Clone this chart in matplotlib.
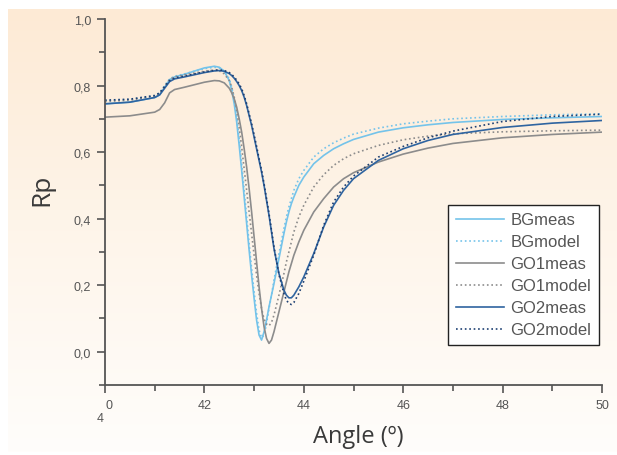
import numpy as np
import matplotlib
matplotlib.use("Agg")
import matplotlib.pyplot as plt
from matplotlib.colors import LinearSegmentedColormap
from matplotlib.ticker import MultipleLocator, FixedLocator, FixedFormatter

angle = [40.0, 40.5, 41.0, 41.1, 41.2, 41.3, 41.4, 41.6, 42.0, 42.2, 42.3, 42.4, 42.5,
         42.55, 42.6, 42.65, 42.7, 42.75, 42.8, 42.85, 42.9, 42.95, 43.0, 43.05, 43.1,
         43.15, 43.2, 43.25, 43.3, 43.35, 43.4, 43.5, 43.6, 43.65, 43.7, 43.75, 43.8,
         43.9, 44.0, 44.2, 44.4, 44.6, 44.8, 45.0, 45.5, 46.0, 46.5, 47.0, 48.0, 49.0, 50.0]

bg_meas = [.745, .750, .764, .772, .795, .818, .826, .834, .853, .858, .855, .843, .815,
           .785, .745, .690, .620, .545, .465, .385, .305, .230, .160, .095, .050,
           .035, .060, .095, .135, .170, .205, .280, .355, .390, .420, .445, .465,
           .500, .525, .565, .590, .610, .625, .638, .660, .673, .682, .689, .698, .703, .707]

bg_model = [.755, .758, .770, .778, .800, .820, .828, .835, .851, .855, .853, .843, .820,
            .795, .760, .705, .640, .565, .485, .405, .325, .250, .180, .115, .065,
            .042, .050, .085, .130, .170, .215, .295, .370, .405, .435, .460, .485,
            .520, .545, .585, .610, .628, .642, .654, .672, .685, .693, .700, .707, .712, .715]

go1_meas = [.705, .709, .720, .728, .748, .778, .788, .795, .810, .815, .814, .808, .792,
            .778, .760, .735, .700, .660, .610, .555, .490, .420, .345, .270, .195,
            .130, .075, .040, .025, .035, .060, .120, .180, .210, .240, .265, .290,
            .330, .365, .420, .460, .495, .520, .538, .570, .594, .612, .626, .643, .653, .660]

go1_model = [.752, .756, .768, .776, .798, .818, .826, .832, .843, .846, .844, .835, .815,
             .795, .765, .725, .675, .615, .550, .485, .420, .355, .290, .230, .175,
             .130, .098, .082, .078, .088, .110, .170, .235, .270, .300, .330, .360,
             .405, .440, .495, .532, .560, .580, .595, .620, .637, .648, .655, .661, .664, .666]

go2_meas = [.745, .750, .764, .772, .792, .812, .820, .826, .839, .844, .845, .843, .836,
            .830, .822, .812, .800, .785, .765, .740, .710, .680, .645, .610, .575,
            .540, .500, .455, .410, .360, .310, .235, .185, .170, .162, .162, .170,
            .195, .225, .295, .375, .440, .485, .520, .575, .610, .635, .653, .674, .687, .695]

go2_model = [.756, .759, .770, .778, .797, .815, .823, .829, .841, .846, .847, .845, .839,
             .833, .826, .816, .805, .790, .770, .745, .715, .685, .652, .617, .580,
             .545, .505, .460, .415, .365, .315, .232, .175, .155, .145, .142, .148,
             .175, .212, .290, .380, .450, .495, .528, .585, .617, .643, .663, .692, .707, .714]

series = [
    ("BGmeas", bg_meas, "#74c3ea", "-"),
    ("BGmodel", bg_model, "#74c3ea", ":"),
    ("GO1meas", go1_meas, "#8c8c8c", "-"),
    ("GO1model", go1_model, "#8c8c8c", ":"),
    ("GO2meas", go2_meas, "#2f64a0", "-"),
    ("GO2model", go2_model, "#1d3f72", ":"),
]

x_ticks = [40, 42, 44, 46, 48, 50]
x_tick_labels = ["0", "42", "44", "46", "48", "50"]
y_ticks = [0.0, 0.2, 0.4, 0.6, 0.8, 1.0]
y_tick_labels = ["0,0", "0,2", "0,4", "0,6", "0,8", "1,0"]

W, H = 617, 456
fig = plt.figure(figsize=(W / 100, H / 100), dpi=100)
fig.patch.set_facecolor("white")

# gradient background panel
bgax = fig.add_axes([8 / W, 1 - 453 / H, 1 - 8 / W, (453 - 10) / H])
cmap = LinearSegmentedColormap.from_list("bgc", ["#fdead5", "#fef5ea", "#fffdfb"])
grad = np.linspace(0, 1, 256).reshape(-1, 1)
bgax.imshow(grad, aspect="auto", cmap=cmap, extent=[0, 1, 0, 1], origin="upper")
bgax.axis("off")

ax = fig.add_axes([105 / W, 1 - 386 / H, (602 - 105) / W, (386 - 20) / H])
ax.patch.set_alpha(0)

for name, vals, col, ls in series:
    ax.plot(angle, vals, color=col, linestyle=ls, lw=1.2, label=name)

ax.set_xlim(40, 50)
ax.set_ylim(-0.1, 1.0)
ax.xaxis.set_major_locator(FixedLocator(x_ticks))
ax.xaxis.set_major_formatter(FixedFormatter(x_tick_labels))
ax.xaxis.set_minor_locator(MultipleLocator(1))
ax.yaxis.set_major_locator(FixedLocator(y_ticks))
ax.yaxis.set_major_formatter(FixedFormatter(y_tick_labels))
ax.yaxis.set_minor_locator(MultipleLocator(0.1))

for s in ["top", "right"]:
    ax.spines[s].set_visible(False)
for s in ["left", "bottom"]:
    ax.spines[s].set_color("#555555")
    ax.spines[s].set_linewidth(1.3)

ax.tick_params(which="major", direction="out", length=6, width=1.2, color="#555555",
               labelsize=9, labelcolor="#555555", pad=4)
ax.tick_params(which="minor", direction="out", length=4, width=1.2, color="#555555")
for lab in ax.get_xticklabels() + ax.get_yticklabels():
    lab.set_fontfamily("Liberation Sans")
ax.get_xticklabels()[0].set_horizontalalignment("left")

fig.text(100 / W, 1 - 419 / H, "4", fontsize=9, color="#555555", family="Liberation Sans",
         ha="center", va="center")

fig.text(42 / W, 1 - 190 / H, "Rp", rotation=90, fontsize=19, color="#3a3a3a",
         family="Open Sans", ha="center", va="center")
fig.text(358 / W, 1 - 437 / H, "Angle (º)", fontsize=17, color="#3a3a3a",
         family="Open Sans", ha="center", va="center")

leg = ax.legend(loc="upper left", bbox_to_anchor=(448 / W, 1 - 206 / H),
                bbox_transform=fig.transFigure, borderaxespad=0, fancybox=False,
                framealpha=1, edgecolor="#222222", handlelength=2.9, handletextpad=0.4,
                labelspacing=0.42, borderpad=0.45,
                prop={"family": "Liberation Sans", "size": 12})
leg.get_frame().set_linewidth(1.0)
for t in leg.get_texts():
    t.set_color("#555555")

fig.savefig("out.png", dpi=100)
